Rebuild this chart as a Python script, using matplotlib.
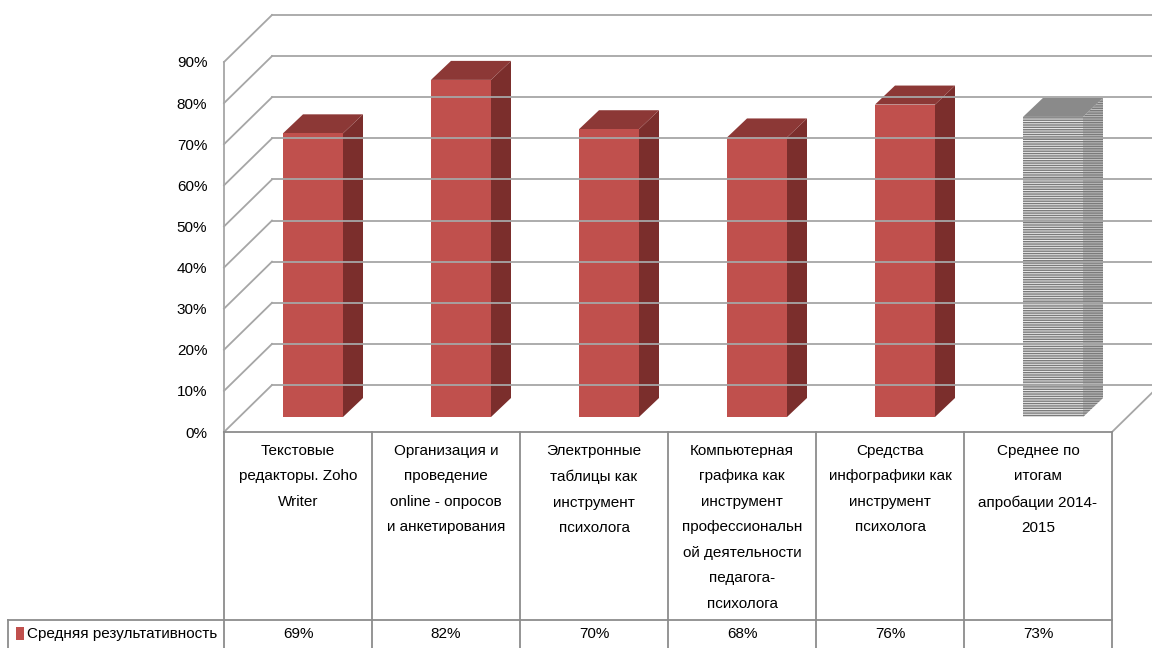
import matplotlib.pyplot as plt
from matplotlib.patches import Polygon, Rectangle
from matplotlib.transforms import blended_transform_factory
from matplotlib.lines import Line2D

plt.rcParams['font.family'] = ['Liberation Sans Narrow', 'Liberation Sans', 'DejaVu Sans']
plt.rcParams['hatch.linewidth'] = 1.0

categories = [
    "Текстовые\nредакторы. Zoho\nWriter",
    "Организация и\nпроведение\nonline - опросов\nи анкетирования",
    "Электронные\nтаблицы как\nинструмент\nпсихолога",
    "Компьютерная\nграфика как\nинструмент\nпрофессиональн\nой деятельности\nпедагога-\nпсихолога",
    "Средства\nинфографики как\nинструмент\nпсихолога",
    "Среднее по\nитогам\nапробации 2014-\n2015",
]
values = [69, 82, 70, 68, 76, 73]
series_name = "Средняя результативность"
yticks = [0, 10, 20, 30, 40, 50, 60, 70, 80, 90]

W, H = 1152, 648
FS = 11
fig = plt.figure(figsize=(W / 100, H / 100), dpi=100)
# front plane of the 3D box
ax = fig.add_axes([224 / W, 1 - 432 / H, 888 / W, 370 / H])
ax.set_xlim(-0.5, 5.5)
ax.set_ylim(0, 90)

ux = 148.0          # px per category
uy = 370.0 / 90     # px per percent
DX, DY = 48 / ux, 47 / uy           # wall depth
OX, OY = 15 / ux, 15 / uy           # bar position inside depth
BX, BY = 20 / ux, 19 / uy           # bar depth
BW = 60 / ux

grid_c = '#a6a6a6'
for t in yticks:
    ax.plot([-0.5, -0.5 + DX], [t, t + DY], color=grid_c, lw=1.3, clip_on=False)
    ax.plot([-0.5 + DX, 7], [t + DY, t + DY], color=grid_c, lw=1.3, clip_on=False)
# floor right edge
ax.plot([5.5, 5.5 + DX], [0, DY], color=grid_c, lw=1.3, clip_on=False)

for s in ['top', 'right', 'bottom']:
    ax.spines[s].set_visible(False)
ax.spines['left'].set_color(grid_c)
ax.spines['left'].set_linewidth(1.3)
ax.set_xticks([])
ax.set_yticks(yticks)
ax.set_yticklabels([f"{t}%" for t in yticks], fontsize=FS)
ax.tick_params(axis='y', length=0, pad=12)

# bars
for i, v in enumerate(values):
    xl = i - BW / 2 + OX
    xr = i + BW / 2 + OX
    y0 = OY
    y1 = v + OY
    avg = (i == len(values) - 1)
    if avg:
        fc_front, fc_top, fc_side = '#eeeeee', '#8a8a8a', '#c0c0c0'
        hatch, hc = '-------', '#7a7a7a'
    else:
        fc_front, fc_top, fc_side = '#c0504d', '#8c3836', '#7b2e2c'
        hatch, hc = None, 'none'
    side = Polygon([(xr, y0), (xr + BX, y0 + BY), (xr + BX, y1 + BY), (xr, y1)],
                   closed=True, facecolor=fc_side, edgecolor=hc, lw=0, hatch=hatch, clip_on=False)
    top = Polygon([(xl, y1), (xr, y1), (xr + BX, y1 + BY), (xl + BX, y1 + BY)],
                  closed=True, facecolor=fc_top, edgecolor='none', clip_on=False)
    front = Rectangle((xl, y0), BW, v, facecolor=fc_front, edgecolor=hc, lw=0,
                      hatch=hatch, clip_on=False)
    for p in (side, top, front):
        ax.add_patch(p)

# data table
tr = blended_transform_factory(ax.transData, fig.transFigure)
line_c = '#8c8c8c'
y_top = 1 - 432 / H
y_mid = 1 - 620 / H
x_left = -0.5 - 216 / ux


def tline(xs, ys):
    fig.add_artist(Line2D(xs, ys, transform=tr, color=line_c, lw=1.3))


tline([-0.5, 5.5], [y_top, y_top])
tline([x_left, 5.5], [y_mid, y_mid])
tline([x_left, x_left], [y_mid, 0])
for k in range(7):
    tline([k - 0.5, k - 0.5], [y_top, 0])

for i, (c, v) in enumerate(zip(categories, values)):
    fig.text(i, 1 - 444 / H, c, transform=tr, ha='center', va='top',
             fontsize=FS, linespacing=2.04)
    fig.text(i, 1 - 634 / H, f"{v}%", transform=tr, ha='center', va='center',
             fontsize=FS)

fig.add_artist(Rectangle((-0.5 - 208 / ux, 1 - 640 / H), 8 / ux, 13 / H,
                         transform=tr, facecolor='#c0504d', edgecolor='none'))
fig.text(-0.5 - 197 / ux, 1 - 634 / H, series_name, transform=tr,
         ha='left', va='center', fontsize=FS)

fig.savefig('out.png', dpi=100)
